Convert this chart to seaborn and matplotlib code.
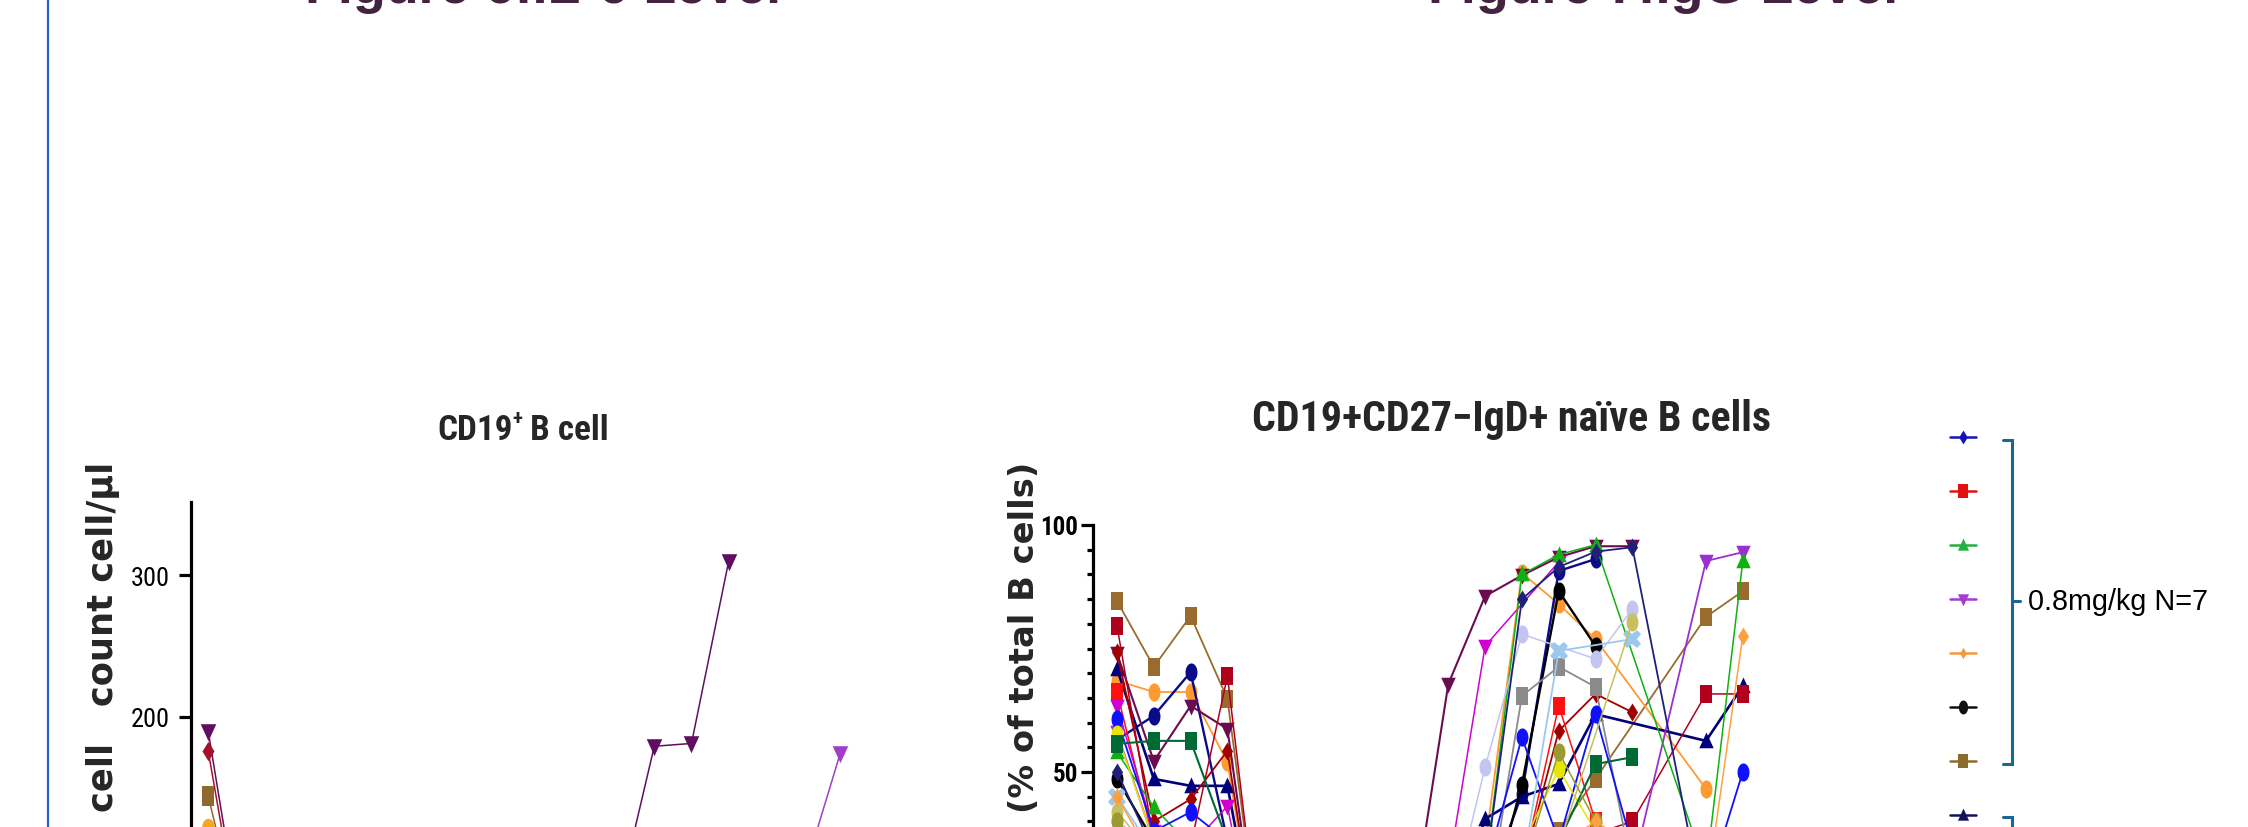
import numpy as np
import pandas as pd
import matplotlib
matplotlib.use("Agg")
import matplotlib.pyplot as plt
import seaborn as sns
from matplotlib import font_manager
from matplotlib.font_manager import FontProperties
from matplotlib.ticker import MultipleLocator
from matplotlib.ft2font import FT2Font

n = np.nan

# ------------------------------------------------------------------ data
# visit positions along the x axis (category index; position 15 unused)
visits = [0, 1, 2, 3, 4, 5, 6, 7, 8, 9, 10, 11, 12, 13, 14, 16, 17]

# Left panel: CD19+ B cell count (cell/µl), one list per subject
cd19_a = [190, 30, 20, 15, 12, 12, 15, 20, 25, 35, 50, 67, 179, 181, 310, n, n]
cd19_b = [176, 25, 18, 14, 12, 12, 14, 18, 22, 28, 35, 45, 60, 70, 80, 90, 100]
cd19_c = [144, 35, 20, 15, 12, 12, 14, 18, 22, 26, 32, 40, 50, 60, 70, 80, 90]
cd19_d = [121, 30, 18, 14, 12, 12, 14, 16, 20, 24, 30, 36, 45, 55, 65, 75, 85]
cd19_e = [95, 20, 15, 12, 10, 10, 12, 15, 20, 25, 35, 45, 55, 65, 75, 87, 174]

# Right panel: CD19+CD27-IgD+ naive B cells (% of total B cells)
naive_01 = [84.6, 71.3, 81.6, 64.8, 8, 6, 5, 7, 9, 14, 22, 30, 38, 48.6, n, 81.4, 86.6]
naive_02 = [68.5, 66.2, 66.2, 52.0, 6, 5, 5, 6, 9, 20, 35, 90.3, 84.0, 76.9, n, 46.6, n]
naive_03 = [56.5, 61.4, 70.2, 36, 5, 4, 4, 6, 8, 12, 25, 45.6, 90.7, 93.1, n, n, n]
naive_04 = [74.0, 52.2, 63.4, 58.7, 6, 5, 4, 6, 20, 67.8, 85.6, 89.8, 93.5, 95.7, 95.7, n, n]
naive_05 = [70.9, 48.6, 47.2, 47.2, 8, 6, 5, 7, 10, 18, 40.5, 45.0, 47.6, 61.7, n, 56.3, 67.4]
naive_06 = [74.3, 40, 44.5, 54.3, 6, 5, 5, 6, 8, 12, 20, 30, 58.3, 65.8, 62.1, n, n]
naive_07 = [79.6, 36, 35, 69.4, 7, 5, 5, 6, 8, 10, 15, 25, 35, n, 40, 65.8, 65.8]
naive_08 = [66.2, 36, 32, 30, 5, 4, 4, 5, 7, 10, 20, 30, 63.4, 40, n, n, n]
naive_09 = [63.4, 38, 35, 43.1, 6, 5, 5, 6, 10, 30, 75.5, n, 92.5, n, n, n, n]
naive_10 = [58, 36, 34, 33, 5, 4, 4, 5, 6, 8, 10, 15, 20, 25, 30, 92.7, 94.5]
naive_11 = [54.0, 42.9, 35, 30, 5, 4, 4, 5, 7, 10, 30, 90.0, 94.0, 96.0, n, 30, 92.7]
naive_12 = [48.6, 36, 33, 30, 5, 4, 4, 5, 6, 10, 20, 47.4, 86.6, 75.5, n, n, n]
naive_13 = [40, 35, 34, 33, 5, 4, 4, 5, 7, 20, 51.0, 77.9, n, 72.9, 83.0, n, n]
naive_14 = [37, 33, 32, 30, 5, 4, 4, 5, 6, 10, 20, 65.4, 71.3, 67.2, 30, n, n]
naive_15 = [60.7, 38, 41.9, 36, 5, 4, 4, 5, 7, 20, 30, 57.0, 36, 61.7, 35, 26, 50.0]
naive_16 = [57.7, 36, 33, 30, 5, 4, 4, 5, 6, 10, 25, 35, 50.6, 38, n, n, n]
naive_17 = [55.7, 56.3, 56.3, 36, 5, 4, 4, 5, 6, 10, 20, 30, 36, 51.6, 53.0, n, n]
naive_18 = [45, 34, 33, 31, 5, 4, 4, 5, 6, 10, 20, 30, 74.5, n, 76.9, n, n]
naive_19 = [42, 33, 32, 30, 5, 4, 4, 5, 6, 9, 15, 25, 35, n, 80.4, n, n]
naive_20 = [40, 32, 31, 30, 5, 4, 4, 5, 6, 9, 15, 30, 54.0, 40, n, n, n]
naive_21 = [50, 34, 32, 30, 5, 4, 4, 5, 6, 10, 30, 85, 91.5, 94.6, 95.5, 20, n]
naive_22 = [45, 32, 31, 30, 5, 4, 4, 5, 6, 9, 15, 25, 35, 40, n, 25, 77.5]

left_title = "Figure 6:IL-6 Level"
right_title = "Figure 7:IgG Level"
cd19_title = ("CD19", "+", " B cell")
cd19_ylabel = "cell   count cell/µl"
naive_title = "CD19+CD27\u2212IgD+ naïve B cells"
naive_ylabel = "(% of total B cells)"
group_label = "0.8mg/kg N=7"
cd19_ticks = [0, 100, 200, 300]
cd19_ticklabels = ["", "", "200", "300"]      # 0 and 100 lie below the visible crop
naive_ticks = [0, 50, 100]
naive_ticklabels = ["", "50", "100"]

# ------------------------------------------------------------------ styles
cd19_series = [
    (cd19_a, "#5e0f60", "v"), (cd19_b, "#a3122a", "D"), (cd19_c, "#8e6a2c", "s"),
    (cd19_d, "#f5a623", "o"), (cd19_e, "#a23ec6", "v"),
]
naive_series = [
    (naive_01, "#9a6b2e", "s", 1.3), (naive_02, "#ff9a30", "o", 1.3),
    (naive_03, "#0b0b8a", "o", 1.7), (naive_04, "#6a0d50", "v", 1.5),
    (naive_05, "#00007a", "^", 1.9), (naive_06, "#a00000", "D", 1.3),
    (naive_07, "#b0001c", "s", 1.1), (naive_08, "#ff1010", "s", 1.1),
    (naive_09, "#d000d0", "v", 1.1), (naive_10, "#9b30d0", "v", 1.3),
    (naive_11, "#10b010", "^", 1.1), (naive_12, "#000000", "o", 1.7),
    (naive_13, "#c4c4f2", "o", 1.1), (naive_14, "#8a8a8a", "s", 1.3),
    (naive_15, "#1010ff", "o", 1.3), (naive_16, "#e6e600", "o", 1.1),
    (naive_17, "#006a35", "s", 1.5), (naive_18, "#9cc8f0", "X", 1.3),
    (naive_19, "#c8c060", "o", 1.1), (naive_20, "#9a9a30", "o", 1.1),
    (naive_21, "#20207a", "D", 1.3), (naive_22, "#ffa040", "D", 1.1),
]
legend_keys = [("#1414b8", "D", 10), ("#e41010", "s", 10), ("#22b040", "^", 10),
               ("#a23cd2", "v", 10), ("#f29a3c", "D", 8), ("#101010", "o", 10),
               ("#8c6c2c", "s", 10), ("#12125e", "^", 10)]

_t = np.linspace(0, 2 * np.pi, 31)
SHAPES = {
    "o": np.column_stack([0.66 * np.cos(_t), np.sin(_t)]),
    "s": np.array([(-0.66, -1), (0.66, -1), (0.66, 1), (-0.66, 1), (-0.66, -1)]),
    "D": np.array([(0, 1), (0.62, 0), (0, -1), (-0.62, 0), (0, 1)]),
    "^": np.array([(-0.8, -0.75), (0.8, -0.75), (0, 1), (-0.8, -0.75)]),
    "v": np.array([(-0.8, 0.75), (0.8, 0.75), (0, -1), (-0.8, 0.75)]),
    "X": "X",
}

sns.set_theme(style="white")
plt.rcParams["font.family"] = ["Liberation Sans", "DejaVu Sans"]


def find_font(bold):
    prefs = ["Liberation Sans Narrow", "Arial Narrow", "Roboto Condensed",
             "Open Sans Condensed", "Noto Sans Condensed", "DejaVu Sans Condensed"]
    found = []
    for f in font_manager.fontManager.ttflist:
        name = f.name
        stretch = str(f.stretch)
        cond = ("Narrow" in name) or ("Condensed" in name and "Extra" not in name
                                      and "Semi" not in name) or stretch == "condensed"
        if not cond or f.style != "normal" or not f.fname.lower().endswith((".ttf", ".otf")):
            continue
        w = f.weight
        if not isinstance(w, (int, float)):
            w = font_manager.weight_dict.get(str(w), 400)
        if (w >= 600) != bold:
            continue
        rank = next((i for i, p in enumerate(prefs) if p in name), len(prefs))
        found.append((rank, abs(w - (700 if bold else 400)), f.fname))
    found.sort()
    return found[0][2] if found else None


nb, nr = find_font(True), find_font(False)
FP_NB = FontProperties(fname=nb) if nb else FontProperties(family="Liberation Sans", weight="bold")
FP_NR = FontProperties(fname=nr) if nr else FontProperties(family="Liberation Sans", weight="normal")
FP_TITLE = FontProperties(family="Liberation Sans", weight="bold")
FP_LAB = FontProperties(family="DejaVu Sans", weight="bold")
FP_TXT = FontProperties(family="Liberation Sans", weight="normal")

if nb:
    try:
        if FT2Font(nb).get_char_index(0x2212) == 0:
            naive_title = naive_title.replace("\u2212", "-")
    except Exception:
        naive_title = naive_title.replace("\u2212", "-")

W, H = 2248, 828
fig = plt.figure(figsize=(W / 100, H / 100), dpi=100)
fig.patch.set_facecolor("white")
R = fig.canvas.get_renderer()


def rect(x0, x1, y0, y1):
    return [x0 / W, 1 - y1 / H, (x1 - x0) / W, (y1 - y0) / H]


def fx(x):
    return x / W


def fy(y):
    return 1 - y / H


def sized(fp, size):
    f = fp.copy()
    f.set_size(size)
    return f


def text_w(s, fp, rot=0):
    t = fig.text(0, 0, s, fontproperties=fp, rotation=rot)
    bb = t.get_window_extent(renderer=R)
    t.remove()
    return bb.height if rot else bb.width


def fit(s, fp, target, rot=0):
    return 20 * target / text_w(s, sized(fp, 20), rot)


# ------------------------------------------------------------------ axes
axL = fig.add_axes(rect(191, 896, 503, 1000))
axR = fig.add_axes(rect(1093, 1798, 526, 1020))


def draw(ax, series, ms, default_lw):
    for item in series:
        vals, col, mk = item[0], item[1], item[2]
        lw = item[3] if len(item) > 3 else default_lw
        df = pd.DataFrame({"visit": visits, "value": vals}).dropna()
        sns.lineplot(data=df, x="visit", y="value", ax=ax, color=col,
                     marker=SHAPES[mk], markersize=ms, linewidth=lw,
                     markeredgewidth=0, estimator=None, legend=False)


draw(axL, cd19_series, 14, 1.1)
draw(axR, naive_series, 13, 1.3)

axL.set_xlim(-0.46, 18.5)
axL.set_ylim(0, 352)
axR.set_xlim(-0.652, 18.5)
axR.set_ylim(0, 100)

for ax in (axL, axR):
    ax.set_facecolor("none")
    ax.patch.set_visible(False)
    for s in ("top", "right", "bottom"):
        ax.spines[s].set_visible(False)
    ax.spines["left"].set_linewidth(2.3)
    ax.spines["left"].set_color("black")
    ax.set_xticks([])
    ax.set_xlabel("")
    ax.set_ylabel("")
    ax.grid(False)

axL.set_yticks(cd19_ticks)
axL.set_yticklabels(cd19_ticklabels)
axL.tick_params(axis="y", which="major", left=True, direction="out", length=9,
                width=2.3, pad=6, colors="black")
axR.set_yticks(naive_ticks)
axR.set_yticklabels(naive_ticklabels)
axR.yaxis.set_minor_locator(MultipleLocator(5))
axR.tick_params(axis="y", which="major", left=True, direction="out", length=9,
                width=2.3, pad=2, colors="black")
axR.tick_params(axis="y", which="minor", left=True, direction="out", length=4.5,
                width=2.3, colors="black")

sL = fit("300", FP_NR, 34) * 1.15
for lab in axL.get_yticklabels():
    lab.set_fontproperties(sized(FP_NR, sL))
sR = fit("100", FP_NB, 33) * 1.15
for lab in axR.get_yticklabels():
    lab.set_fontproperties(sized(FP_NB, sR))

# ------------------------------------------------------------------ texts
st = fit(left_title, FP_TITLE, 476)
fig.text(fx(543), fy(3.5), left_title, fontproperties=sized(FP_TITLE, st),
         color="#432340", ha="center", va="baseline")
fig.text(fx(1663), fy(3.5), right_title, fontproperties=sized(FP_TITLE, st),
         color="#432340", ha="center", va="baseline")

# CD19+ B cell title (superscript plus as its own small text)
p1, pp, p2 = cd19_title
s0 = 20
wtot = text_w(p1, sized(FP_NB, s0)) + text_w(pp, sized(FP_NB, s0 * 0.6)) + text_w(p2, sized(FP_NB, s0))
sc = s0 * 172 / wtot
w1 = text_w(p1, sized(FP_NB, sc))
wp = text_w(pp, sized(FP_NB, sc * 0.6))
x0 = 523 - 172 / 2
fig.text(fx(x0), fy(440), p1, fontproperties=sized(FP_NB, sc), ha="left", va="baseline")
fig.text(fx(x0 + w1), fy(424), pp, fontproperties=sized(FP_NB, sc * 0.6), ha="left", va="baseline")
fig.text(fx(x0 + w1 + wp), fy(440), p2, fontproperties=sized(FP_NB, sc), ha="left", va="baseline")

sn = fit(naive_title, FP_NB, 519)
fig.text(fx(1511), fy(431), naive_title, fontproperties=sized(FP_NB, sn),
         ha="center", va="baseline")

sy = fit("count cell/µl", FP_LAB, 245, rot=90)
fig.text(fx(103), fy(462), cd19_ylabel, fontproperties=sized(FP_LAB, sy),
         rotation=90, ha="center", va="top")
sy2 = fit(naive_ylabel, FP_LAB, 350, rot=90)
fig.text(fx(1025), fy(462), naive_ylabel, fontproperties=sized(FP_LAB, sy2),
         rotation=90, ha="center", va="top")

sg = fit(group_label, FP_TXT, 180)
fig.text(fx(2028), fy(602), group_label, fontproperties=sized(FP_TXT, sg),
         ha="left", va="center", color="black")

# ------------------------------------------------------------------ overlay decorations
ov = fig.add_axes([0, 0, 1, 1])
ov.set_xlim(0, W)
ov.set_ylim(H, 0)
ov.axis("off")
ov.patch.set_visible(False)
ov.set_zorder(5)

ov.plot([48, 48], [0, H], color="#2563c9", lw=1.6)

for i, (c, m, ms) in enumerate(legend_keys):
    y = 438 + 54 * i
    ov.plot([1950, 1976], [y, y], color=c, lw=1.8)
    ov.plot([1963], [y], marker=SHAPES[m], ms=ms, color=c, mew=0, lw=0)

bc = "#1d6592"
ov.plot([2003, 2012, 2012, 2003], [441, 441, 765, 765], color=bc, lw=2.2,
        solid_joinstyle="miter")
ov.plot([2012, 2020], [602, 602], color=bc, lw=2.2)
ov.plot([2003, 2012, 2012], [818, 818, 845], color=bc, lw=2.2,
        solid_joinstyle="miter", clip_on=False)

fig.savefig("out.png", dpi=100, facecolor="white")
